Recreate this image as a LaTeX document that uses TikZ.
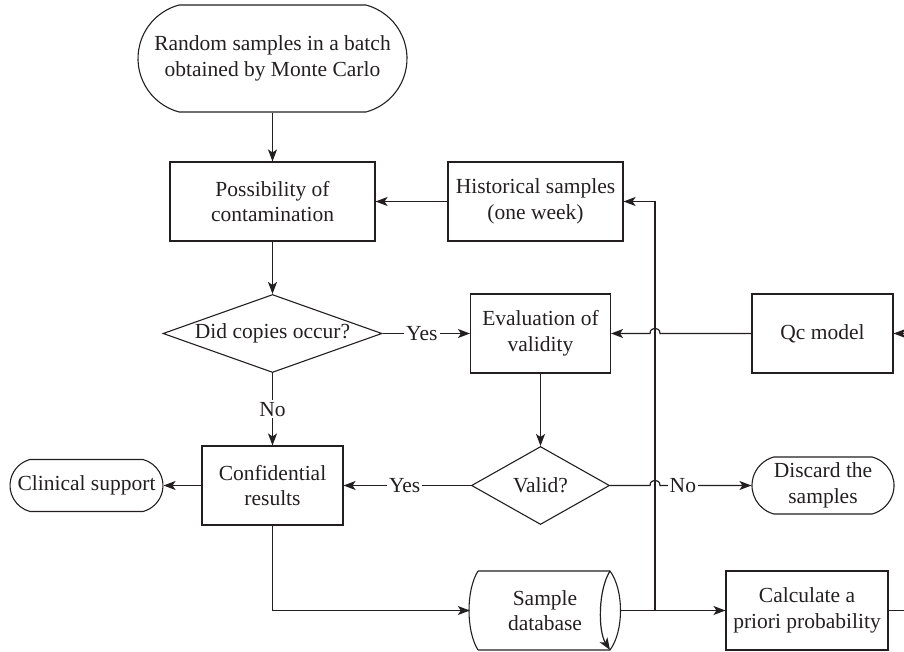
\documentclass[tikz,border=0pt]{standalone}
\usepackage{fontspec}
\setmainfont{Liberation Serif}
\usetikzlibrary{shapes.geometric,shapes.misc,arrows.meta}
\definecolor{ink}{HTML}{231F20}
\tikzset{
  every node/.style={font=\fontsize{21.5}{25.5}\selectfont, text=ink, align=center, inner sep=0pt},
  base/.style={draw=ink, line width=1.1pt},
  boxnode/.style={base, rectangle, minimum height=79pt},
  termnode/.style={base, rounded rectangle, rounded rectangle arc length=150},
  decnode/.style={base, diamond, aspect=2.8},
  conn/.style={draw=ink, line width=1.2pt},
  arr/.style={conn, -{Stealth[length=12pt,width=9pt,inset=3pt]}},
  lab/.style={fill=white, inner sep=2pt}
}
\begin{document}
\begin{tikzpicture}[x=1pt,y=-1pt]
\useasboundingbox (0,0) rectangle (904,652);

\node[termnode, minimum width=269pt, minimum height=107pt] (top) at (272.5,58.5) {Random samples in a batch\\obtained by Monte Carlo};
\node[boxnode, minimum width=205pt] (poss) at (272.5,201.5) {Possibility of\\contamination};
\node[boxnode, minimum width=175pt] (hist) at (535.5,201.5) {Historical samples\\(one week)};
\node[decnode, minimum width=219pt, minimum height=78pt] (d1) at (272.5,333.5) {Did copies occur?};
\node[boxnode, minimum width=140pt] (eval) at (540.5,333.5) {Evaluation of\\validity};
\node[boxnode, minimum width=141pt] (qc) at (822.5,333.5) {Qc model};
\node[decnode, minimum width=138pt, minimum height=78pt] (valid) at (540.5,485.5) {Valid?};
\node[boxnode, minimum width=141pt] (conf) at (272.5,485.5) {Confidential\\results};
\node[termnode, minimum width=153pt, minimum height=52pt] (clin) at (86.5,485.5) {Clinical support};
\node[termnode, minimum width=142pt, minimum height=57pt] (disc) at (823,485.5) {Discard the\\samples};
\node[rectangle, minimum width=150pt, minimum height=79pt] (db) at (545,610.5) {Sample\\database};
\node[boxnode, minimum width=162pt] (calc) at (807,610.5) {Calculate a\\priori probability};

% database shape
\draw[base] (478,571) -- (610,571) (478,650) -- (610,650)
  (478,571) .. controls (466,590) and (466,631) .. (478,650)
  (610,571) .. controls (624,590) and (624,631) .. (610,650);
\draw[arr] (610,571) .. controls (598,590) and (598,631) .. (610,650);

\coordinate (qin) at (904,333.5);
\coordinate (cout) at (904,610.5);
\coordinate (jn) at (655,610.5);

\draw[arr] (top.south) -- (poss.north);
\draw[arr] (hist.west) -- (poss.east);
\draw[arr] (poss.south) -- (d1.north);
\draw[arr] (d1.east) -- node[lab, pos=0.45] {Yes} (eval.west);
\draw[arr] (d1.south) -- node[lab, pos=0.5] {No} (conf.north);
\draw[arr] (eval.south) -- (valid.north);
\draw[arr] (valid.west) -- node[lab, pos=0.52] {Yes} (conf.east);
\draw[arr] (conf.west) -- (clin.east);
\draw[arr] (conf.south) |- (db.west);
\draw[arr] (db.east) -- (calc.west);
\draw[arr] (jn) |- (hist.east);
\draw[conn] (calc.east) -- (cout);
\draw[arr] (qin) -- (qc.east);
\draw[arr] (qc.west) -- (660,333.5) .. controls (660,326.5) and (650,326.5) .. (650,333.5) -- (eval.east);
\draw[arr] (valid.east) -- (650,485.5) .. controls (650,478.5) and (660,478.5) .. (660,485.5) -- node[lab, pos=0.25] {No} (disc.west);
\end{tikzpicture}
\end{document}
